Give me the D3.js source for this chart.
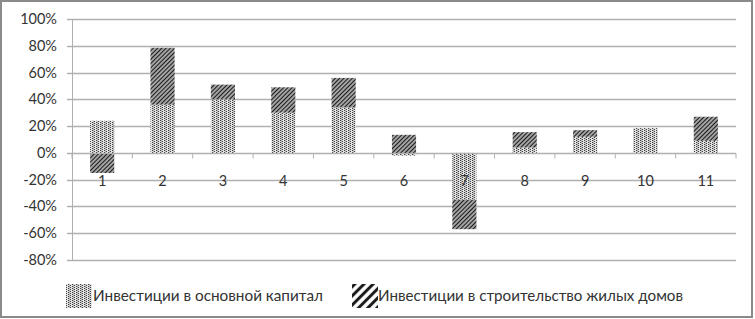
<!DOCTYPE html>
<html><head><meta charset="utf-8">
<script src="https://cdn.jsdelivr.net/npm/d3@7"></script>
<style>html,body{margin:0;padding:0;background:#fff}svg{display:block}</style>
</head><body>
<script>
const categories = ["1","2","3","4","5","6","7","8","9","10","11"];
const capital = [24, 36, 40, 30, 34, -2, -35, 4, 12, 18.5, 9];
const housing = [-15, 42.5, 11, 19, 22, 13.5, -22, 11.5, 5, 0, 18];
const seriesNames = ["Инвестиции в основной капитал", "Инвестиции в строительство жилых домов"];
const yTicks = [100, 80, 60, 40, 20, 0, -20, -40, -60, -80];

const W = 755, H = 319;
const svg = d3.select("body").append("svg").attr("width", W).attr("height", H);
const font = "Lato, 'Open Sans', sans-serif";

const defs = svg.append("defs");
const dot = defs.append("pattern").attr("id","dots").attr("patternUnits","userSpaceOnUse")
  .attr("width",4).attr("height",4);
dot.append("rect").attr("width",4).attr("height",4).attr("fill","#e2e2e2");
[[0,0],[0,2],[2,1],[2,3]].forEach(([x,y])=>dot.append("rect").attr("x",x).attr("y",y).attr("width",1).attr("height",1).attr("fill","#404040"));
dot.append("rect").attr("x",1).attr("y",0).attr("width",1).attr("height",4).attr("fill","#b5b5b5");

function hatch(id, size, sw){
  const p = defs.append("pattern").attr("id",id).attr("patternUnits","userSpaceOnUse")
    .attr("width",size).attr("height",size).attr("patternTransform","rotate(45)");
  p.append("rect").attr("width",size).attr("height",size).attr("fill","#fff");
  p.append("line").attr("x1",size/2).attr("x2",size/2).attr("y1",0).attr("y2",size)
    .attr("stroke","#1a1a1a").attr("stroke-width",sw);
}
hatch("hatch", 3, 1.8);
hatch("hatchL", 6.5, 3);

// border
svg.append("rect").attr("x",1).attr("y",1).attr("width",751).attr("height",316)
  .attr("fill","#fff").attr("stroke","#8a8a8a").attr("stroke-width",2);

const x = d3.scaleBand().domain(categories).range([72, 736]).paddingInner(0.6).paddingOuter(0.3);
const y = d3.scaleLinear().domain([-80, 100]).range([260, 19]);

// gridlines
svg.append("g").selectAll("line").data(yTicks).join("line")
  .attr("x1",67).attr("x2",736).attr("y1",d=>Math.round(y(d))+0.5).attr("y2",d=>Math.round(y(d))+0.5)
  .attr("stroke","#b0b0b0").attr("stroke-width",1.5);
// y axis line
svg.append("line").attr("x1",72.5).attr("x2",72.5).attr("y1",y(100)).attr("y2",y(-80))
  .attr("stroke","#b0b0b0").attr("stroke-width",1);
// y labels
svg.append("g").selectAll("text").data(yTicks).join("text")
  .attr("x",57).attr("y",d=>y(d)+5).attr("text-anchor","end")
  .attr("font-family",font).attr("font-size",14.5).attr("fill","#333")
  .text(d=>d+"%");

// stacked bars (positive and negative stacked separately)
const stackData = categories.map((c,i)=>{
  let pos=0, neg=0; const out=[];
  [capital[i], housing[i]].forEach((v,s)=>{
    if (v>=0){ out.push({c,s,y0:pos,y1:pos+v}); pos+=v; }
    else { out.push({c,s,y0:neg,y1:neg+v}); neg+=v; }
  });
  return out;
}).flat();
svg.append("g").selectAll("rect").data(stackData).join("rect")
  .attr("x",d=>x(d.c)).attr("width",x.bandwidth())
  .attr("y",d=>Math.min(y(d.y0),y(d.y1)))
  .attr("height",d=>Math.abs(y(d.y0)-y(d.y1)))
  .attr("fill",d=>d.s===0?"url(#dots)":"url(#hatch)");

// x axis at 0
const y0 = Math.round(y(0))+0.5;
svg.append("line").attr("x1",72).attr("x2",736).attr("y1",y0).attr("y2",y0)
  .attr("stroke","#b0b0b0").attr("stroke-width",1);
const step = x.step();
svg.append("g").selectAll("line").data(d3.range(categories.length+1)).join("line")
  .attr("x1",d=>72+d*step).attr("x2",d=>72+d*step).attr("y1",y0).attr("y2",y0+5)
  .attr("stroke","#b0b0b0");
svg.append("g").selectAll("text").data(categories).join("text")
  .attr("x",d=>x(d)+x.bandwidth()/2).attr("y",186)
  .attr("text-anchor","middle").attr("font-family",font).attr("font-size",14.5).attr("fill","#333")
  .text(d=>d);

// legend
const leg = [{x:66, tx:93, w:230, fill:"url(#dots)", name:seriesNames[0]},{x:352, tx:378, w:305, fill:"url(#hatchL)", name:seriesNames[1]}];
const lg = svg.append("g").selectAll("g").data(leg).join("g");
lg.append("rect").attr("x",d=>d.x).attr("y",284).attr("width",26).attr("height",24).attr("fill",d=>d.fill);
lg.append("text").attr("x",d=>d.tx).attr("y",301).attr("font-family",font).attr("font-size",15).attr("fill","#333")
  .attr("textLength",d=>d.w).attr("lengthAdjust","spacingAndGlyphs")
  .text(d=>d.name);
</script>
</body></html>
